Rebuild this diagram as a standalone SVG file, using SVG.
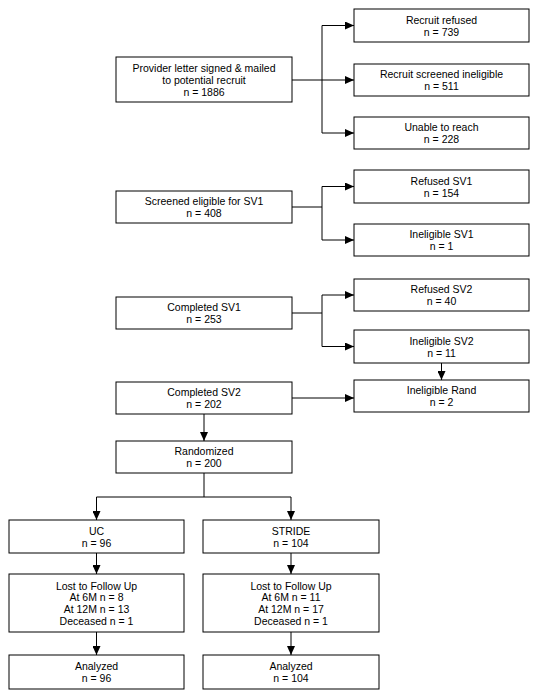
<svg xmlns="http://www.w3.org/2000/svg" width="539" height="698" viewBox="0 0 539 698">
<style>
.box{fill:#fff;stroke:#000;stroke-width:1}
text{font-family:"Liberation Sans",Arial,sans-serif;font-size:10.5px;fill:#000;text-anchor:middle}
.c{fill:none;stroke:#000;stroke-width:1}
</style>
<defs>
<marker id="ah" markerUnits="userSpaceOnUse" markerWidth="9" markerHeight="8" refX="9" refY="4" orient="auto">
<path d="M0,0 L9,4 L0,8 z" fill="#000"/>
</marker>
</defs>
<rect width="539" height="698" fill="#fff"/>
<g id="connectors">
<path class="c" d="M292,80 H322 M322,25.5 V133"/>
<path class="c" d="M322,25.5 H354" marker-end="url(#ah)"/>
<path class="c" d="M322,80 H354" marker-end="url(#ah)"/>
<path class="c" d="M322,133 H354" marker-end="url(#ah)"/>
<path class="c" d="M292,207 H322 M322,186.5 V240"/>
<path class="c" d="M322,186.5 H354" marker-end="url(#ah)"/>
<path class="c" d="M322,240 H354" marker-end="url(#ah)"/>
<path class="c" d="M292,313 H322 M322,295 V346.5"/>
<path class="c" d="M322,295 H354" marker-end="url(#ah)"/>
<path class="c" d="M322,346.5 H354" marker-end="url(#ah)"/>
<path class="c" d="M441.5,363 V380" marker-end="url(#ah)"/>
<path class="c" d="M292,398 H354" marker-end="url(#ah)"/>
<path class="c" d="M204,414 V441" marker-end="url(#ah)"/>
<path class="c" d="M204,473 V497 M96.5,497 H291"/>
<path class="c" d="M96.5,497 V520" marker-end="url(#ah)"/>
<path class="c" d="M291,497 V520" marker-end="url(#ah)"/>
<path class="c" d="M96.5,553 V574" marker-end="url(#ah)"/>
<path class="c" d="M291,553 V574" marker-end="url(#ah)"/>
<path class="c" d="M96.5,632 V655" marker-end="url(#ah)"/>
<path class="c" d="M291,632 V655" marker-end="url(#ah)"/>
</g>
<g id="provider"><rect class="box" x="116" y="57" width="176" height="45"/><text x="204" y="71.5">Provider letter signed &amp; mailed</text><text x="204" y="83.5">to potential recruit</text><text x="204" y="95.5">n = 1886</text></g>
<g id="recruit-refused"><rect class="box" x="354" y="9" width="175" height="33"/><text x="441.5" y="23.5">Recruit refused</text><text x="441.5" y="35.5">n = 739</text></g>
<g id="recruit-ineligible"><rect class="box" x="354" y="64" width="175" height="32"/><text x="441.5" y="78">Recruit screened ineligible</text><text x="441.5" y="90">n = 511</text></g>
<g id="unable"><rect class="box" x="354" y="117" width="175" height="32"/><text x="441.5" y="131">Unable to reach</text><text x="441.5" y="143">n = 228</text></g>
<g id="screened-eligible"><rect class="box" x="116" y="191" width="176" height="32"/><text x="204" y="205">Screened eligible for SV1</text><text x="204" y="217">n = 408</text></g>
<g id="refused-sv1"><rect class="box" x="354" y="170" width="175" height="33"/><text x="441.5" y="184.5">Refused SV1</text><text x="441.5" y="196.5">n = 154</text></g>
<g id="ineligible-sv1"><rect class="box" x="354" y="224" width="175" height="32"/><text x="441.5" y="238">Ineligible SV1</text><text x="441.5" y="250">n = 1</text></g>
<g id="completed-sv1"><rect class="box" x="116" y="297" width="176" height="32"/><text x="204" y="311">Completed SV1</text><text x="204" y="323">n = 253</text></g>
<g id="refused-sv2"><rect class="box" x="354" y="279" width="175" height="32"/><text x="441.5" y="293">Refused SV2</text><text x="441.5" y="305">n = 40</text></g>
<g id="ineligible-sv2"><rect class="box" x="354" y="330" width="175" height="33"/><text x="441.5" y="344.5">Ineligible SV2</text><text x="441.5" y="356.5">n = 11</text></g>
<g id="ineligible-rand"><rect class="box" x="354" y="380" width="175" height="32"/><text x="441.5" y="394">Ineligible Rand</text><text x="441.5" y="406">n = 2</text></g>
<g id="completed-sv2"><rect class="box" x="116" y="382" width="176" height="32"/><text x="204" y="396">Completed SV2</text><text x="204" y="408">n = 202</text></g>
<g id="randomized"><rect class="box" x="116" y="441" width="176" height="32"/><text x="204" y="455">Randomized</text><text x="204" y="467">n = 200</text></g>
<g id="uc"><rect class="box" x="9" y="520" width="175" height="33"/><text x="96.5" y="534.5">UC</text><text x="96.5" y="546.5">n = 96</text></g>
<g id="stride"><rect class="box" x="203" y="520" width="176" height="33"/><text x="291" y="534.5">STRIDE</text><text x="291" y="546.5">n = 104</text></g>
<g id="lost-uc"><rect class="box" x="9" y="574" width="175" height="58"/><text x="96.5" y="589.5">Lost to Follow Up</text><text x="96.5" y="601.3">At 6M n = 8</text><text x="96.5" y="613.1">At 12M n = 13</text><text x="96.5" y="625">Deceased n = 1</text></g>
<g id="lost-stride"><rect class="box" x="203" y="574" width="176" height="58"/><text x="291" y="589.5">Lost to Follow Up</text><text x="291" y="601.3">At 6M n = 11</text><text x="291" y="613.1">At 12M n = 17</text><text x="291" y="625">Deceased n = 1</text></g>
<g id="analyzed-uc"><rect class="box" x="9" y="655" width="175" height="34"/><text x="96.5" y="670">Analyzed</text><text x="96.5" y="682">n = 96</text></g>
<g id="analyzed-stride"><rect class="box" x="203" y="655" width="176" height="34"/><text x="291" y="670">Analyzed</text><text x="291" y="682">n = 104</text></g>
</svg>
